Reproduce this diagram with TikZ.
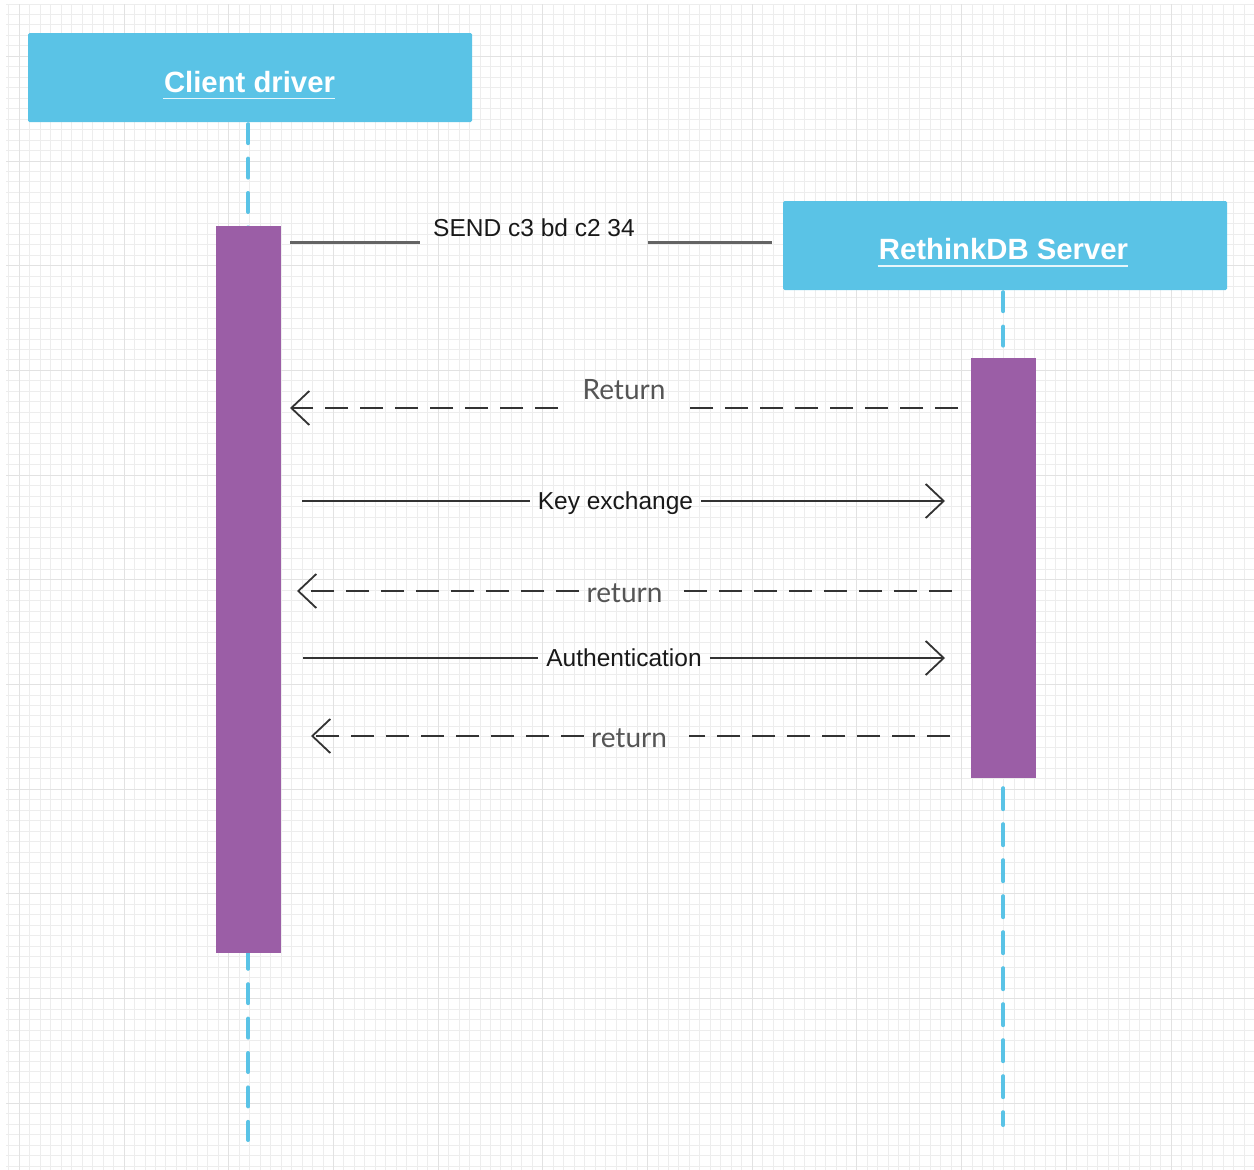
\documentclass[tikz,border=0pt]{standalone}
\usepackage{fontspec}
\setmainfont{Liberation Sans}
\newfontfamily\latofont{Lato}
\usetikzlibrary{arrows.meta,calc}
\definecolor{actorblue}{RGB}{90,195,230}
\definecolor{actpurple}{RGB}{155,94,166}
\definecolor{gridminor}{RGB}{237,237,237}
\definecolor{gridmajor}{RGB}{226,226,226}
\definecolor{msgline}{RGB}{51,51,51}
\definecolor{sendline}{RGB}{100,100,100}
\definecolor{retcolor}{RGB}{85,85,85}
\definecolor{msgtext}{RGB}{25,25,25}
\begin{document}
\begin{tikzpicture}[x=1pt,y=-1pt,
  actor/.style={fill=actorblue, draw=none, rounded corners=1.5pt, minimum width=444pt, minimum height=89pt, inner sep=0pt},
  actorlabel/.style={text=white, font=\fontsize{29.3}{32}\selectfont\bfseries, inner sep=0pt, anchor=base},
  underl/.style={draw=white, opacity=0.85, line width=1.6pt},
  lifeline/.style={draw=actorblue, line width=4pt, line cap=round, dash pattern=on 19pt off 15.4pt},
  lifelinelow/.style={draw=actorblue, line width=4pt, line cap=round, dash pattern=on 21pt off 15pt},
  activation/.style={fill=actpurple, draw=none, minimum width=65pt, inner sep=0pt},
  msglabel/.style={text=msgtext, font=\fontsize{24.5}{28}\selectfont, inner ysep=0pt, anchor=base},
  retlabel/.style={text=retcolor, font=\latofont\fontsize{28}{32}\selectfont, inner ysep=0pt, anchor=base},
  sendmsg/.style={draw=sendline, line width=3pt},
  solidmsg/.style={draw=msgline, line width=1.8pt},
  dashmsg/.style={draw=msgline, line width=1.8pt, dash pattern=on 23pt off 12pt},
  opentip/.style={-{Straight Barb[length=18pt, width=34pt]}},
]
\useasboundingbox (0,0) rectangle (1254,1170);
\fill[white] (0,0) rectangle (1254,1170);
% grid
\foreach \k in {0,...,119} {\draw[gridminor, line width=1pt] ({8.9+\k*10.47},4) -- ({8.9+\k*10.47},1170);}
\foreach \k in {0,...,111} {\draw[gridminor, line width=1pt] (6,{4+\k*10.47}) -- (1254,{4+\k*10.47});}
\foreach \k in {1,11,...,111} {\draw[gridmajor, line width=1pt] ({8.9+\k*10.47},4) -- ({8.9+\k*10.47},1170);}
\foreach \k in {5,15,...,105} {\draw[gridmajor, line width=1pt] (6,{4+\k*10.47}) -- (1254,{4+\k*10.47});}

% actors
\node[actor] (client) at (250,77.5) {};
\node[actorlabel] (clientlbl) at (249.5,92) {Client driver};
\draw[underl] ($(clientlbl.base west)+(-1,6.5)$) -- ($(clientlbl.base east)+(0,6.5)$);
\node[actor] (server) at (1005,245.5) {};
\node[actorlabel] (serverlbl) at (1003.5,259.5) {RethinkDB Server};
\draw[underl] ($(serverlbl.base west)+(-1,6.5)$) -- ($(serverlbl.base east)+(0,6.5)$);

% activations (positions)
\node[activation, minimum height=727pt] (cliact) at (248.5,589.5) {};
\node[activation, minimum height=420pt] (srvact) at (1003.5,568) {};

% lifelines
\coordinate (clientend) at (248.3,1140);
\coordinate (serverend) at (1003.3,1125);
\draw[lifeline] ($(clientend |- client.south)+(0,2)$) -- (clientend);
\draw[lifeline] ($(serverend |- server.south)+(0,2)$) -- (serverend |- srvact.north);
\draw[lifelinelow] ($(serverend |- srvact.south)+(0,10)$) -- (serverend);

% activations drawn over the lifelines
\fill[actpurple] (cliact.north west) rectangle (cliact.south east);
\fill[actpurple] (srvact.north west) rectangle (srvact.south east);

% message 1: SEND
\coordinate (sendA) at (290,242);
\coordinate (sendB) at (772,242);
\node[msglabel, inner xsep=13pt] (sendlbl) at (534,236) {SEND c3 bd c2 34};
\draw[sendmsg] (sendA) -- (sendA -| sendlbl.west);
\draw[sendmsg] (sendlbl.east |- sendB) -- (sendB);

% message 2: Return
\coordinate (r1s) at (958,408);
\coordinate (r1e) at (290,408);
\node[retlabel, inner xsep=0pt] (r1lbl) at (624,399.5) {Return};
\draw[dashmsg] (r1s) -- (680,408);
\draw[dashmsg, opentip] (558,408) -- (r1e);

% message 3: Key exchange
\coordinate (k1s) at (302,501);
\coordinate (k1e) at (945,501);
\node[msglabel, inner xsep=8pt] (k1lbl) at (615.5,509.5) {Key exchange};
\draw[solidmsg] (k1s) -- (k1s -| k1lbl.west);
\draw[solidmsg, opentip] (k1lbl.east |- k1e) -- (k1e);

% message 4: return
\coordinate (r2s) at (952,591);
\coordinate (r2e) at (297,591);
\node[retlabel, inner xsep=7pt] (r2lbl) at (624.5,602) {return};
\draw[dashmsg] (r2s) -- ($(r2s -| r2lbl.east)+(9,0)$);
\draw[dashmsg, opentip] (r2lbl.west |- r2e) -- (r2e);

% message 5: Authentication
\coordinate (a1s) at (303,658);
\coordinate (a1e) at (945,658);
\node[msglabel, inner xsep=8pt] (a1lbl) at (624,666.5) {Authentication};
\draw[solidmsg] (a1s) -- (a1s -| a1lbl.west);
\draw[solidmsg, opentip] (a1lbl.east |- a1e) -- (a1e);

% message 6: return
\coordinate (r3s) at (950,736);
\coordinate (r3e) at (311,736);
\node[retlabel, inner xsep=7pt] (r3lbl) at (629,747) {return};
\draw[dashmsg] (r3s) -- ($(r3s -| r3lbl.east)+(15,0)$);
\draw[dashmsg, opentip] (r3lbl.west |- r3e) -- (r3e);
\end{tikzpicture}
\end{document}
